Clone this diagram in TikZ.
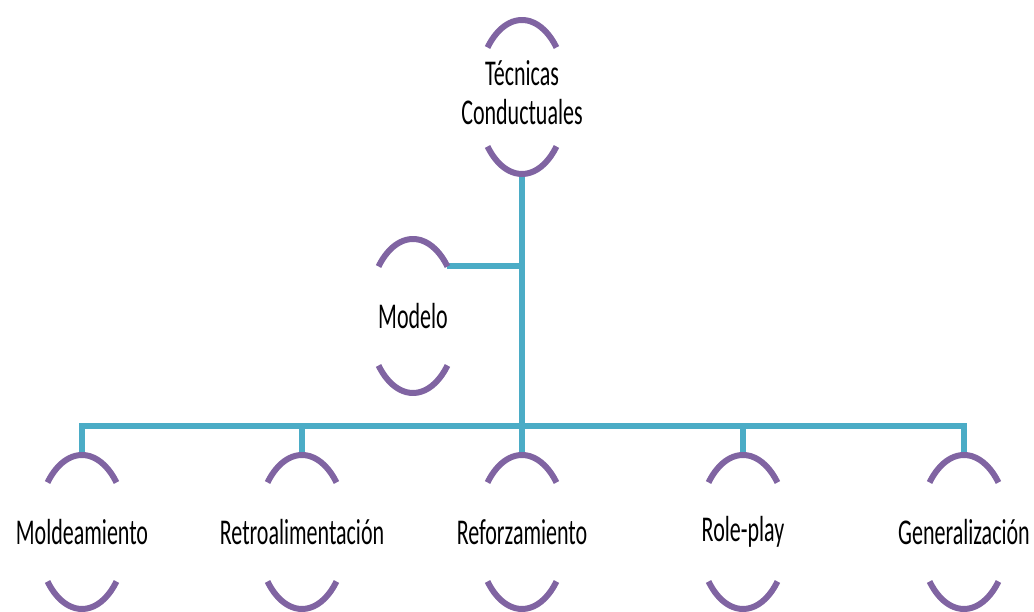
\documentclass[tikz,border=0pt]{standalone}
\usepackage{fontspec}
\setmainfont{Carlito}
\usetikzlibrary{shapes.geometric}
\definecolor{arcpurple}{HTML}{8064A2}
\definecolor{linkteal}{HTML}{4BACC6}
\newcommand{\stretchtxt}[1]{\scalebox{1}[1.65]{#1}}
\tikzset{
  unit/.style={ellipse, minimum width=90pt, minimum height=154pt, inner sep=0pt,
    font=\fontsize{22}{23.5}\selectfont, text=black},
  arcline/.style={draw=arcpurple, line width=6pt},
  link/.style={draw=linkteal, line width=6pt}
}
\newcommand{\brackets}[1]{%
  \draw[arcline] ([shift={(140:45 and 77)}]#1.center) arc[start angle=140, end angle=40, x radius=45, y radius=77];
  \draw[arcline] ([shift={(220:45 and 77)}]#1.center) arc[start angle=220, end angle=320, x radius=45, y radius=77];
}
\begin{document}
\begin{tikzpicture}[x=1pt,y=1pt]
\useasboundingbox (0,0) rectangle (1034,612);
\fill[white] (0,0) rectangle (1034,612);
% nodes
\node[unit] (T) at (522,515) {\stretchtxt{\begin{tabular}{@{}c@{}}Técnicas\\Conductuales\end{tabular}}};
\node[unit] (M) at (413,296) {\stretchtxt{Modelo}};
\node[unit] (A) at (82,80) {\stretchtxt{Moldeamiento}};
\node[unit] (B) at (302,80) {\stretchtxt{Retroalimentación}};
\node[unit] (C) at (522,80) {\stretchtxt{Reforzamiento}};
\node[unit] (D) at (743,80) {\stretchtxt{Role-play}};
\node[unit] (E) at (964,80) {\stretchtxt{Generalización}};
\coordinate (Mc) at ([shift={(40:45 and 77)}]M.center);
% connectors
\foreach \n in {A,B,C,D,E}{
  \draw[link] (T.south) -- ++(0,-252) -| (\n.north);
}
\draw[link] (Mc) -- (Mc -| T.south);
% arcs
\foreach \n in {T,M,A,B,C,D,E}{\brackets{\n}}
\end{tikzpicture}
\end{document}
